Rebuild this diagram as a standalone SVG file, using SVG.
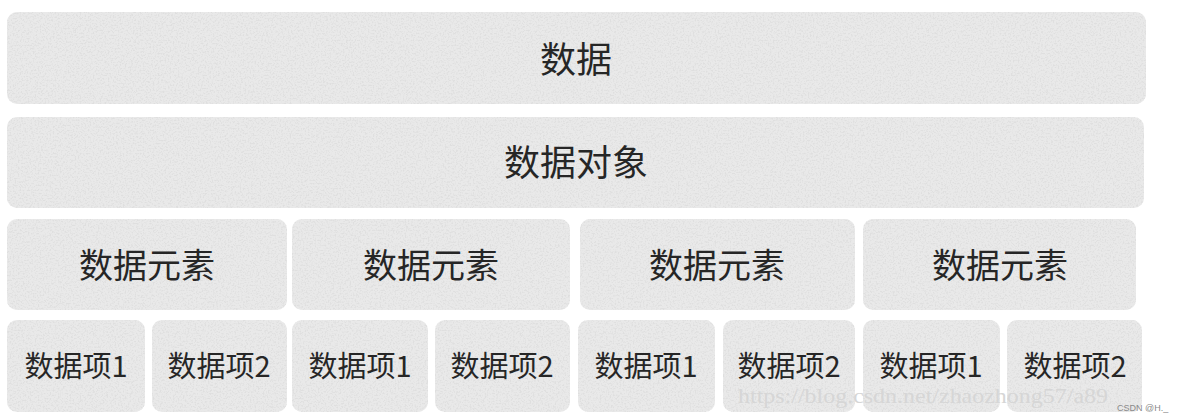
<svg xmlns="http://www.w3.org/2000/svg" width="1181" height="420" viewBox="0 0 1181 420">
<style>
  .box { fill: #e9e9e9; }
  .lbl { font-family: "Noto Sans CJK SC", "Noto Sans", sans-serif; fill: #262626; text-anchor: middle; dominant-baseline: central; }
  .l1 { font-size: 36px; }
  .l3 { font-size: 34px; }
  .l4 { font-size: 29px; }
  .wm { font-family: "Liberation Serif", serif; fill: #d6d6d6; font-size: 22px; }
  .csdn { font-family: "Liberation Sans", sans-serif; fill: #8a8a8a; font-size: 9px; }
</style>
<defs>
  <filter id="tex" x="0" y="0" width="100%" height="100%">
    <feTurbulence type="fractalNoise" baseFrequency="0.6" numOctaves="2" seed="5" result="n"/>
    <feColorMatrix in="n" type="matrix" values="0 0 0 0 0.74  0 0 0 0 0.74  0 0 0 0 0.74  4 0 0 0 -1.85" result="spk"/>
    <feComposite in="spk" in2="SourceGraphic" operator="in" result="spk2"/>
    <feMerge><feMergeNode in="SourceGraphic"/><feMergeNode in="spk2"/></feMerge>
  </filter>
</defs>
<rect width="1181" height="420" fill="#ffffff"/>
<g id="connectors"></g>
<g filter="url(#tex)">
  <g id="n-data"><rect class="box" x="7" y="12" width="1139" height="92" rx="10"/></g>
  <g id="n-object"><rect class="box" x="7" y="117" width="1137" height="91" rx="10"/></g>
  <g id="n-elem1"><rect class="box" x="7" y="219" width="280" height="91" rx="10"/></g>
  <g id="n-elem2"><rect class="box" x="292" y="219" width="278" height="91" rx="10"/></g>
  <g id="n-elem3"><rect class="box" x="580" y="219" width="275" height="91" rx="10"/></g>
  <g id="n-elem4"><rect class="box" x="863" y="219" width="273" height="91" rx="10"/></g>
  <g id="n-item1a"><rect class="box" x="7" y="320" width="138" height="92" rx="10"/></g>
  <g id="n-item1b"><rect class="box" x="152" y="320" width="135" height="92" rx="10"/></g>
  <g id="n-item2a"><rect class="box" x="292" y="320" width="136" height="92" rx="10"/></g>
  <g id="n-item2b"><rect class="box" x="435" y="320" width="135" height="92" rx="10"/></g>
  <g id="n-item3a"><rect class="box" x="578" y="320" width="137" height="92" rx="10"/></g>
  <g id="n-item3b"><rect class="box" x="723" y="320" width="132" height="92" rx="10"/></g>
  <g id="n-item4a"><rect class="box" x="863" y="320" width="137" height="92" rx="10"/></g>
  <g id="n-item4b"><rect class="box" x="1007" y="320" width="135" height="92" rx="10"/></g>
</g>
<g id="labels">
  <text class="lbl l1" x="576" y="57">数据</text>
  <text class="lbl l1" x="576" y="160">数据对象</text>
  <text class="lbl l3" x="147" y="263">数据元素</text>
  <text class="lbl l3" x="431" y="263">数据元素</text>
  <text class="lbl l3" x="717" y="263">数据元素</text>
  <text class="lbl l3" x="1000" y="263">数据元素</text>
  <text class="lbl l4" x="76" y="364">数据项1</text>
  <text class="lbl l4" x="219" y="364">数据项2</text>
  <text class="lbl l4" x="360" y="364">数据项1</text>
  <text class="lbl l4" x="502" y="364">数据项2</text>
  <text class="lbl l4" x="646" y="364">数据项1</text>
  <text class="lbl l4" x="789" y="364">数据项2</text>
  <text class="lbl l4" x="931" y="364">数据项1</text>
  <text class="lbl l4" x="1075" y="364">数据项2</text>
</g>
<text class="wm" x="738" y="403" textLength="370" lengthAdjust="spacingAndGlyphs">https://blog.csdn.net/zhaozhong57/a89</text>
<text class="csdn" x="1117" y="411">CSDN @H._</text>
</svg>
